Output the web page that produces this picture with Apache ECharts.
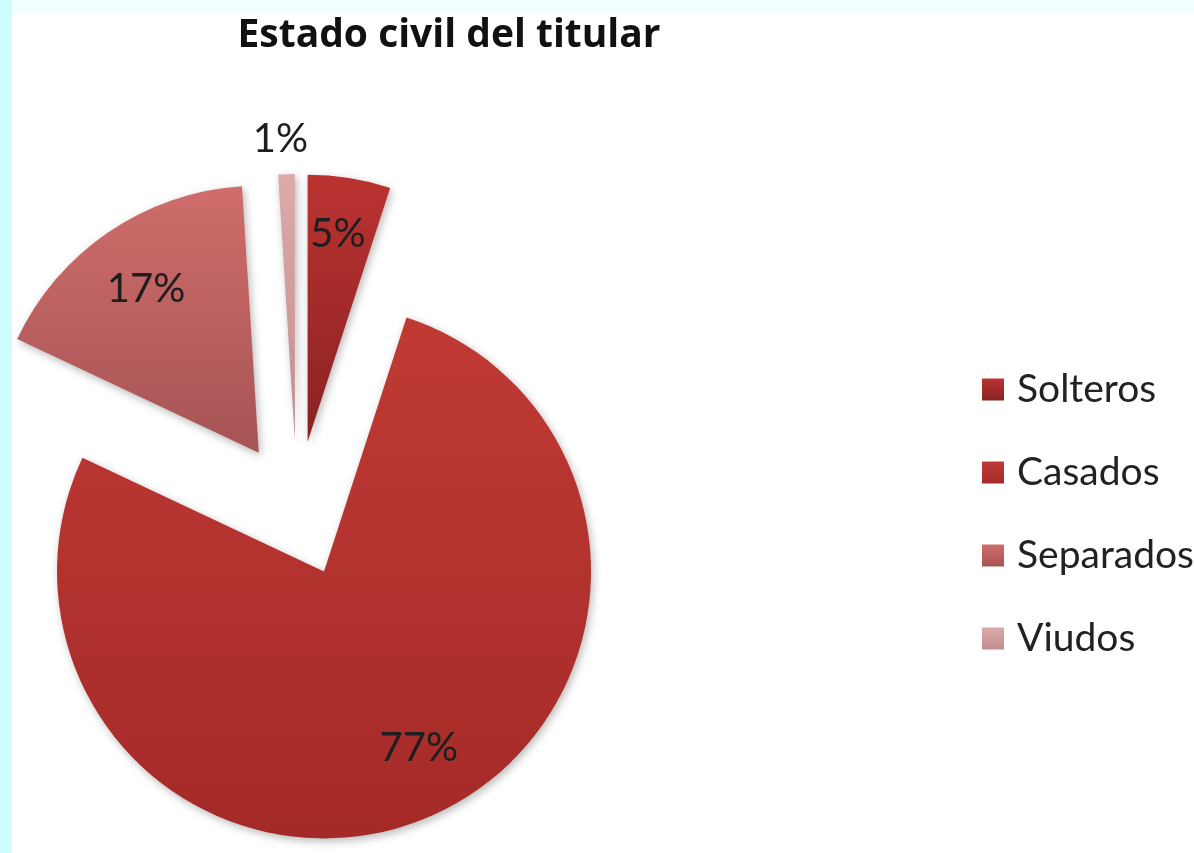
<!DOCTYPE html>
<html>
<head>
<meta charset="utf-8">
<title>Estado civil del titular</title>
<script src="https://cdn.jsdelivr.net/npm/echarts@6/dist/echarts.min.js"></script>
<style>
  html, body { margin: 0; padding: 0; width: 1194px; height: 853px; overflow: hidden; }
  body {
    background:
      linear-gradient(to right, #cdfdfd 0, #cdfdfd 12px, transparent 12px),
      linear-gradient(to bottom, #f3fefe 0, #f3fefe 13px, #ffffff 13px);
  }
  #chart { position: absolute; left: 0; top: 0; width: 1194px; height: 853px; }
</style>
</head>
<body>
<div id="chart"></div>
<script>
// Estado civil del titular (porcentaje)
const categories = ['Solteros', 'Casados', 'Separados', 'Viudos'];
const values = [5, 77, 17, 1];

// top / bottom colours of each slice's vertical gradient
const topColors = ['#bb3331', '#c03a34', '#cf6d6b', '#dcabab'];
const bottomColors = ['#882222', '#a42a28', '#a65455', '#c38c8e'];

const FONT = 'Lato, "Open Sans", sans-serif';
const TITLE_FONT = '"Open Sans", "Noto Sans", sans-serif';
const CENTER = [297, 509];
const R = 267;
const OFFSET = 68;

function grad(i) {
  return new echarts.graphic.LinearGradient(0, 0, 0, 1, [
    { offset: 0, color: topColors[i] },
    { offset: 1, color: bottomColors[i] }
  ]);
}

const sliceData = categories.map((name, i) => ({
  name: name,
  value: values[i],
  selected: true,
  itemStyle: { color: grad(i) },
  label: i === 3 ? { show: true, position: 'outside' } : { show: false }
}));

// transparent ring whose inside labels sit at ~3/4 of the radius
const labelData = categories.map((name, i) => ({
  name: name,
  value: values[i],
  selected: true,
  label: { show: i !== 3 }
}));

// small per-slice nudges of the inside labels (px)
function nudgeLabel(params) {
  if (params.dataIndex === 1) return { dx: 13, dy: -12 };
  if (params.dataIndex === 2) return { dx: 3, dy: 7 };
  if (params.dataIndex === 0) return { dx: -2, dy: -4 };
  return {};
}

const chart = echarts.init(document.getElementById('chart'), null, { renderer: 'canvas' });

chart.setOption({
  animation: false,
  backgroundColor: 'transparent',
  title: {
    text: 'Estado civil del titular',
    left: 444,
    textAlign: 'center',
    top: 11,
    textStyle: { fontFamily: TITLE_FONT, fontWeight: 'bold', fontSize: 39, color: '#111111' }
  },
  legend: {
    orient: 'vertical',
    left: 977,
    top: 364,
    itemWidth: 22,
    itemHeight: 22,
    itemGap: 42,
    icon: 'rect',
    selectedMode: false,
    data: categories,
    textStyle: {
      fontFamily: FONT, fontSize: 39, color: '#222222',
      lineHeight: 41, padding: [0, 0, 0, 8]
    }
  },
  series: [
    {
      name: 'Estado civil',
      type: 'pie',
      center: CENTER,
      radius: [0, R],
      startAngle: 90,
      clockwise: true,
      selectedMode: 'multiple',
      selectedOffset: OFFSET,
      avoidLabelOverlap: false,
      silent: true,
      itemStyle: {
        borderWidth: 0,
        shadowBlur: 8,
        shadowColor: 'rgba(0,0,0,0.28)',
        shadowOffsetX: 2,
        shadowOffsetY: 3
      },
      label: {
        formatter: '{d}%',
        fontFamily: FONT,
        fontSize: 40,
        color: '#1e1e1e'
      },
      labelLine: { show: false, length: 35, length2: 0 },
      labelLayout: { align: 'center' },
      data: sliceData
    },
    {
      name: 'Etiquetas',
      type: 'pie',
      center: CENTER,
      radius: [Math.round(R * 0.52), R],
      startAngle: 90,
      clockwise: true,
      selectedMode: 'multiple',
      selectedOffset: OFFSET,
      avoidLabelOverlap: false,
      silent: true,
      itemStyle: { color: 'rgba(0,0,0,0)', borderWidth: 0 },
      label: {
        position: 'inside',
        formatter: '{d}%',
        fontFamily: FONT,
        fontSize: 40,
        color: '#1e1e1e'
      },
      labelLine: { show: false },
      labelLayout: nudgeLabel,
      data: labelData
    }
  ]
});
</script>
</body>
</html>
